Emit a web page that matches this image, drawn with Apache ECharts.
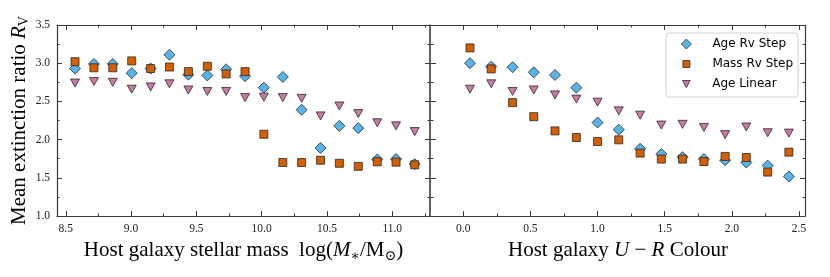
<!DOCTYPE html>
<html><head><meta charset="utf-8">
<script src="https://cdn.jsdelivr.net/npm/echarts@6/dist/echarts.min.js"></script>
<style>html,body{margin:0;padding:0;background:#fff}#c{width:830px;height:277px}</style>
</head><body><div id="c"></div>
<script>
// ---- data ----
const seriesNames = ['Age Rv Step', 'Mass Rv Step', 'Age Linear'];
const massX = [8.571, 8.716, 8.860, 9.005, 9.150, 9.294, 9.439, 9.584, 9.728, 9.873, 10.017, 10.162, 10.306, 10.451, 10.595, 10.740, 10.885, 11.029, 11.172];
const massAgeStep = [2.93, 2.99, 2.99, 2.87, 2.93, 3.11, 2.85, 2.84, 2.92, 2.83, 2.68, 2.82, 2.39, 1.89, 2.18, 2.15, 1.74, 1.745, 1.68];
const massMassStep = [3.02, 2.94, 2.94, 3.03, 2.93, 2.95, 2.89, 2.96, 2.86, 2.89, 2.07, 1.70, 1.70, 1.73, 1.69, 1.65, 1.71, 1.705, 1.67];
const massAgeLinear = [2.74, 2.76, 2.75, 2.66, 2.69, 2.73, 2.65, 2.63, 2.63, 2.55, 2.555, 2.55, 2.54, 2.31, 2.44, 2.34, 2.22, 2.18, 2.105];
const colourX = [0.050, 0.208, 0.367, 0.525, 0.683, 0.842, 1.000, 1.158, 1.317, 1.475, 1.633, 1.792, 1.950, 2.108, 2.267, 2.425];
const colourAgeStep = [3.00, 2.955, 2.947, 2.88, 2.846, 2.68, 2.223, 2.13, 1.88, 1.81, 1.77, 1.745, 1.73, 1.70, 1.66, 1.517];
const colourMassStep = [3.20, 2.925, 2.484, 2.30, 2.114, 2.027, 1.975, 1.997, 1.823, 1.745, 1.745, 1.713, 1.78, 1.766, 1.575, 1.836];
const colourAgeLinear = [2.66, 2.73, 2.63, 2.65, 2.585, 2.53, 2.49, 2.376, 2.32, 2.19, 2.20, 2.16, 2.065, 2.165, 2.09, 2.085];
const massTicks = [8.5, 9.0, 9.5, 10.0, 10.5, 11.0];
const massMinor = [8.75, 9.25, 9.75, 10.25, 10.75, 11.25];
const colourTicks = [0.0, 0.5, 1.0, 1.5, 2.0, 2.5];
const colourMinor = [-0.25, 0.25, 0.75, 1.25, 1.75, 2.25];
const rvTicks = [1.0, 1.5, 2.0, 2.5, 3.0, 3.5];
const rvMinor = [1.25, 1.75, 2.25, 2.75, 3.25];

// ---- styling ----
const SERIF = '"Liberation Serif", "DejaVu Serif", serif';
const SANS = '"DejaVu Sans", sans-serif';
const AX = '#3a3a3a';
const colors = ['#56B4E9', '#D55E00', '#CC79A7'];
const symbols = ['diamond', 'rect', 'triangle'];
const sizes = [11, 8, [9, 8]];
const rotates = [0, 0, 180];
const legendIcons = ['diamond', 'rect', 'path://M0,0L10,0L5,9Z'];
const legendIconSize = [[10, 10], [7, 7], [8, 7]];

const massRange = [8.433, 11.289];
const colourRange = [-0.2405, 2.545];
const rvRange = [1.0, 3.5];

const FS = 21;
const richName = {
  i: { fontFamily: SERIF, fontStyle: 'italic', fontSize: FS, color: '#000' },
  s: { fontFamily: SERIF, fontSize: 14, color: '#000', padding: [11, 0, 0, 0] },
  n: { fontFamily: SERIF, fontSize: FS, color: '#000' }
};

function axis(kind, grid, pos, vals, len, range, o) {
  o = o || {};
  const a = {
    type: 'value', gridIndex: grid, position: pos, min: range[0], max: range[1],
    axisLine: { show: !!o.line, onZero: false, lineStyle: { color: AX, width: o.lw || 1.2 } },
    axisTick: { show: true, inside: true, length: len, customValues: vals, lineStyle: { color: AX, width: 1 } },
    axisLabel: { show: !!o.label, customValues: vals, margin: 7, fontFamily: SERIF, fontSize: 11.5, color: '#222',
      formatter: v => v.toFixed(1) },
    splitLine: { show: false }
  };
  if (o.name) {
    a.name = o.name; a.nameLocation = 'middle'; a.nameGap = o.nameGap;
    a.nameRotate = kind === 'y' ? 90 : 0;
    a.nameTextStyle = { fontFamily: SERIF, fontSize: FS, color: '#000', rich: richName };
  }
  return a;
}

const xAxes = [
  axis('x', 0, 'bottom', massTicks, 5, massRange, { line: true, label: true, name: '{n|Host galaxy stellar mass  log(}{i|M}{s|∗}{n|/M}{s|⊙}{n|)}', nameGap: 14 }),
  axis('x', 0, 'bottom', massMinor, 2.5, massRange),
  axis('x', 0, 'top', massTicks, 5, massRange, { line: true }),
  axis('x', 0, 'top', massMinor, 2.5, massRange),
  axis('x', 1, 'bottom', colourTicks, 5, colourRange, { line: true, label: true, name: '{n|Host galaxy }{i|U}{n| − }{i|R}{n| Colour}', nameGap: 14 }),
  axis('x', 1, 'bottom', colourMinor, 2.5, colourRange),
  axis('x', 1, 'top', colourTicks, 5, colourRange, { line: true }),
  axis('x', 1, 'top', colourMinor, 2.5, colourRange)
];
const yAxes = [
  axis('y', 0, 'left', rvTicks, 5, rvRange, { line: true, label: true, name: '{n|Mean extinction ratio }{i|R}{s|V}', nameGap: 20 }),
  axis('y', 0, 'left', rvMinor, 2.5, rvRange),
  axis('y', 0, 'right', rvTicks, 5, rvRange, { line: true, lw: 1.6 }),
  axis('y', 0, 'right', rvMinor, 2.5, rvRange),
  axis('y', 1, 'left', rvTicks, 5, rvRange, { line: false }),
  axis('y', 1, 'left', rvMinor, 2.5, rvRange),
  axis('y', 1, 'right', rvTicks, 5, rvRange, { line: true }),
  axis('y', 1, 'right', rvMinor, 2.5, rvRange)
];

function pairs(xs, ys) { return xs.map((x, i) => [x, ys[i]]); }
const panels = [
  { xi: 0, yi: 0, x: massX, ys: [massAgeStep, massMassStep, massAgeLinear] },
  { xi: 4, yi: 4, x: colourX, ys: [colourAgeStep, colourMassStep, colourAgeLinear] }
];
const series = [];
panels.forEach(p => {
  p.ys.forEach((ys, k) => {
    series.push({
      type: 'scatter', name: seriesNames[k], xAxisIndex: p.xi, yAxisIndex: p.yi,
      symbol: symbols[k], symbolSize: sizes[k], symbolRotate: rotates[k],
      itemStyle: { color: colors[k], borderColor: '#2a2a2a', borderWidth: 0.8, opacity: 1 },
      emphasis: { disabled: true },
      data: pairs(p.x, ys), z: 2 + k
    });
  });
});

const ICON_CX = 686, TEXT_X = 712, ROW0 = 44, ROWGAP = 20, ROWH = 14;
const legends = seriesNames.map((nm, k) => {
  const w = legendIconSize[k][0], h = legendIconSize[k][1];
  const left = ICON_CX - w / 2;
  const padL = TEXT_X - (left + w + 5);
  return {
    data: [{ name: nm, icon: legendIcons[k] }], left: left, top: ROW0 + k * ROWGAP - ROWH / 2,
    orient: 'vertical', padding: 0, itemWidth: w, itemHeight: h, itemGap: 0, selectedMode: false, z: 6,
    itemStyle: { color: colors[k], borderColor: '#2a2a2a', borderWidth: 0.8 },
    textStyle: { fontFamily: SANS, fontSize: 12, color: '#000', lineHeight: ROWH, padding: [0, 0, 0, padL] }
  };
});

const chart = echarts.init(document.getElementById('c'), null, { renderer: 'canvas' });
chart.setOption({
  animation: false,
  backgroundColor: '#fff',
  grid: [
    { left: 57, top: 25, width: 373, height: 191 },
    { left: 431, top: 25, width: 374, height: 191 }
  ],
  xAxis: xAxes,
  yAxis: yAxes,
  legend: legends,
  graphic: [{
    type: 'rect', z: 5, shape: { x: 666, y: 33, width: 132, height: 64, r: 3 },
    style: { fill: 'rgba(255,255,255,0.85)', stroke: '#d4d4d4', lineWidth: 1 }
  }],
  series: series
});
</script>
</body></html>
